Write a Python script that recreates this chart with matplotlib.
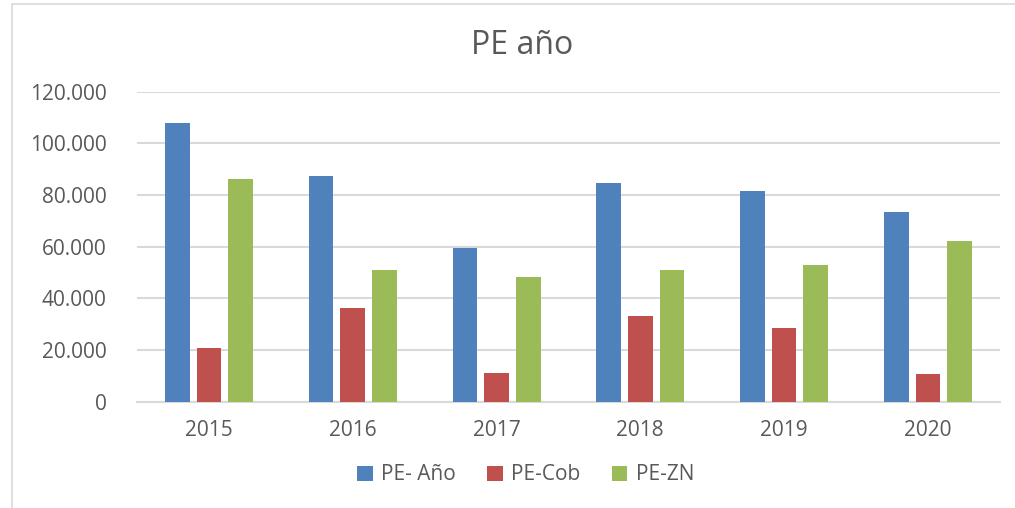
import numpy as np
import matplotlib.pyplot as plt
from matplotlib.patches import Rectangle
from matplotlib.ticker import FuncFormatter

plt.rcParams['font.family'] = ['Open Sans', 'DejaVu Sans']

years = ["2015", "2016", "2017", "2018", "2019", "2020"]
pe_anio = [107800, 87500, 59400, 84800, 81700, 73300]
pe_cob = [21000, 36300, 11100, 33300, 28400, 10700]
pe_zn = [86200, 51000, 48200, 51200, 53000, 62200]

series = [("PE- Año", pe_anio, "#4F81BD"),
          ("PE-Cob", pe_cob, "#C0504D"),
          ("PE-ZN", pe_zn, "#9BBB59")]

txt = "#595959"

fig = plt.figure(figsize=(10.15, 5.08), dpi=100)
ax = fig.add_axes([0.135, 0.209, 0.850, 0.6105])

x = np.arange(len(years))
w = 0.172
step = 0.22
for i, (name, vals, col) in enumerate(series):
    ax.bar(x + (i - 1) * step, vals, w, color=col, label=name, zorder=3)

ax.set_xlim(-0.5, len(years) - 0.5)
ax.set_ylim(0, 120000)
ax.set_yticks(range(0, 120001, 20000))
ax.yaxis.set_major_formatter(FuncFormatter(lambda v, p: "{:,.0f}".format(v).replace(",", ".")))
ax.set_xticks(x)
ax.set_xticklabels(years)
ax.grid(axis="y", color="#D9D9D9", linewidth=1.5, zorder=0)
for s in ["top", "right", "left"]:
    ax.spines[s].set_visible(False)
ax.spines["bottom"].set_color("#D9D9D9")
ax.spines["bottom"].set_linewidth(1.5)
ax.tick_params(axis="both", length=0, colors=txt, labelsize=15)
ax.tick_params(axis="y", pad=22)
ax.tick_params(axis="x", pad=13)

fig.text(0.514, 0.91, "PE año", ha="center", va="center", fontsize=23, color=txt)

fig.legend(loc="center", bbox_to_anchor=(0.518, 0.065), ncol=3, frameon=False,
           fontsize=15, labelcolor=txt, handlelength=0.75, handleheight=0.75,
           handletextpad=0.4, columnspacing=1.5)

fig.patches.append(Rectangle((12 / 1015, -0.05), 1.2, 1 - 4 / 508 + 0.05,
                             transform=fig.transFigure, fill=False,
                             edgecolor="#D9D9D9", linewidth=1.2))

fig.savefig("out.png", dpi=100)
